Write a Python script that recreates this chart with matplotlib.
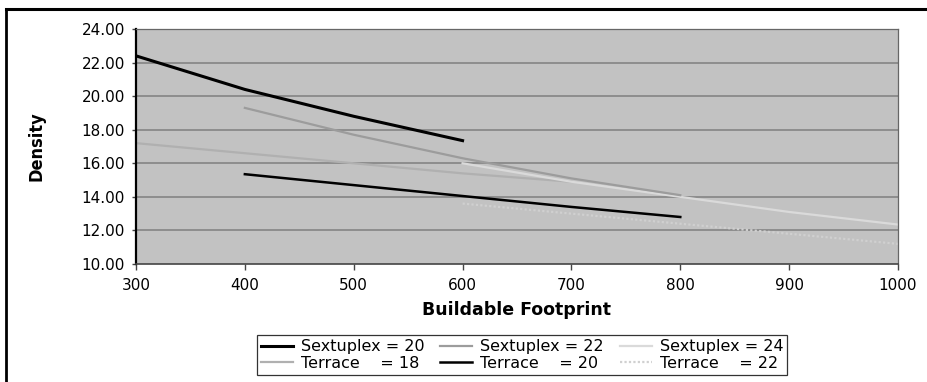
import matplotlib.pyplot as plt
from matplotlib.lines import Line2D

# Density against buildable footprint for each housing type
sext20_x = [300, 400, 500, 600]
sext20_y = [22.40, 20.40, 18.80, 17.35]

sext22_x = [400, 500, 600, 700, 800]
sext22_y = [19.30, 17.70, 16.30, 15.10, 14.10]

sext24_x = [600, 700, 800, 900, 1000]
sext24_y = [16.00, 14.90, 14.00, 13.10, 12.35]

terr18_x = [300, 400, 500, 600, 700]
terr18_y = [17.20, 16.60, 16.00, 15.40, 14.90]

terr20_x = [400, 500, 600, 700, 800]
terr20_y = [15.35, 14.70, 14.05, 13.40, 12.80]

terr22_x = [600, 700, 800, 900, 1000]
terr22_y = [13.60, 13.00, 12.40, 11.80, 11.20]

x_ticks = [300, 400, 500, 600, 700, 800, 900, 1000]
y_ticks = [10, 12, 14, 16, 18, 20, 22, 24]

fig = plt.figure(figsize=(9.28, 3.82), dpi=100)
ax = fig.add_axes([136 / 928, 1 - 264 / 382, 762 / 928, 235 / 382])
ax.set_facecolor('#c2c2c2')

for yv in y_ticks[1:-1]:
    ax.axhline(yv, color='#848484', lw=1.2, zorder=1)

ax.plot(terr18_x, terr18_y, color='#b0b0b0', lw=1.6, zorder=2, label='Terrace    = 18')
ax.plot(terr22_x, terr22_y, color='#d0d0d0', lw=1.6, ls=(0, (1, 1)), zorder=2, label='Terrace    = 22')
ax.plot(sext24_x, sext24_y, color='#dadada', lw=1.6, zorder=2, label='Sextuplex = 24')
ax.plot(sext22_x, sext22_y, color='#9c9c9c', lw=1.6, zorder=3, label='Sextuplex = 22')
ax.plot(terr20_x, terr20_y, color='black', lw=1.8, zorder=4, label='Terrace    = 20')
ax.plot(sext20_x, sext20_y, color='black', lw=2.2, zorder=4, label='Sextuplex = 20')

ax.set_xlim(300, 1000)
ax.set_ylim(10, 24)
ax.set_xticks(x_ticks)
ax.set_yticks(y_ticks)
ax.set_yticklabels([f'{v:.2f}' for v in y_ticks])

for lab in ax.get_xticklabels() + ax.get_yticklabels():
    lab.set_fontfamily('DejaVu Sans')
    lab.set_fontsize(11)
ax.tick_params(axis='y', length=3, width=1, color='#444444', pad=5)
ax.tick_params(axis='x', length=4, width=1, color='#444444', pad=6)

ax.spines['left'].set_color('black')
ax.spines['left'].set_linewidth(1.6)
ax.spines['bottom'].set_color('#444444')
ax.spines['bottom'].set_linewidth(1.2)
for s in ('top', 'right'):
    ax.spines[s].set_color('#666666')
    ax.spines[s].set_linewidth(0.9)

ax.set_xlabel('Buildable Footprint', fontsize=12.5, fontweight='bold', labelpad=6)
ax.set_ylabel('Density', fontsize=13, fontweight='bold', fontstretch='condensed',
              family=['Liberation Sans Narrow', 'DejaVu Sans'], labelpad=26)

# legend filled row by row: sextuplex on top, terrace below
h = {l.get_label(): l for l in ax.get_lines()}
order = ['Sextuplex = 20', 'Terrace    = 18', 'Sextuplex = 22',
         'Terrace    = 20', 'Sextuplex = 24', 'Terrace    = 22']
leg = fig.legend([h[k] for k in order], order, ncol=3, loc='center',
                 bbox_to_anchor=(522 / 928, 1 - 355 / 382), frameon=True,
                 fancybox=False, edgecolor='black', fontsize=11.5,
                 handlelength=2.0, handletextpad=0.5, columnspacing=1.0,
                 labelspacing=0.1, borderpad=0.25)
leg.get_frame().set_linewidth(0.9)

# outer chart border
fig.add_artist(Line2D([6 / 928, 6 / 928], [0, 1 - 9 / 382], color='black', lw=2,
                      transform=fig.transFigure))
fig.add_artist(Line2D([6 / 928, 1], [1 - 9 / 382, 1 - 9 / 382], color='black', lw=2.2,
                      transform=fig.transFigure))

fig.savefig('out.png', dpi=100)
